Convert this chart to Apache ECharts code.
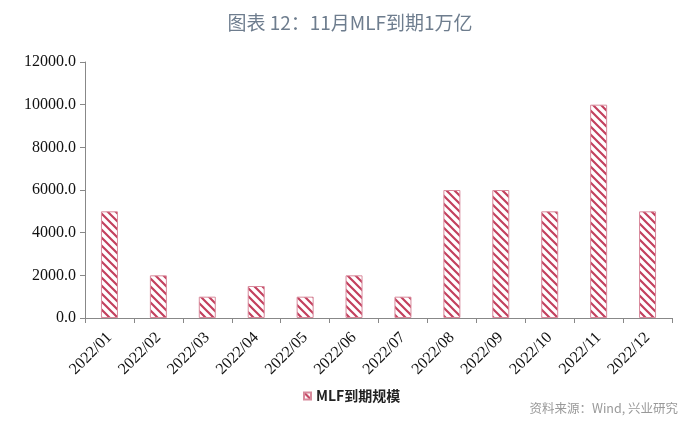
<!DOCTYPE html>
<html><head><meta charset="utf-8">
<script src="https://cdn.jsdelivr.net/npm/echarts@6/dist/echarts.min.js"></script>
<style>html,body{margin:0;padding:0;background:#fff}#c{width:700px;height:435px}</style>
</head><body><div id="c"></div>
<script>
var categories = ['2022/01','2022/02','2022/03','2022/04','2022/05','2022/06','2022/07','2022/08','2022/09','2022/10','2022/11','2022/12'];
var mlfValues = [5000,2000,1000,1500,1000,2000,1000,6000,6000,5000,10000,5000];
var seriesName = 'MLF到期规模';
var titleText = '图表 12：11月MLF到期1万亿';
var sourceText = '资料来源：Wind, 兴业研究';

function makePattern(){
  var s = 8, cv = document.createElement('canvas');
  cv.width = s; cv.height = s;
  var ctx = cv.getContext('2d');
  ctx.fillStyle = '#ffffff'; ctx.fillRect(0,0,s,s);
  ctx.strokeStyle = '#c3405e'; ctx.lineWidth = 2.2;
  ctx.beginPath();
  ctx.moveTo(-2,-2); ctx.lineTo(s+2,s+2);
  ctx.moveTo(-2,s-2); ctx.lineTo(2,s+2);
  ctx.moveTo(s-2,-2); ctx.lineTo(s+2,2);
  ctx.stroke();
  return cv;
}
var pat = makePattern();
var chart = echarts.init(document.getElementById('c'));
chart.setOption({
  animation:false,
  backgroundColor:'#fff',
  title:{text:titleText,left:'center',top:8,textStyle:{color:'#6e7d8e',fontSize:19,fontWeight:'normal',fontFamily:'Noto Sans CJK SC'}},
  graphic:[{type:'text',right:22,top:402,style:{text:sourceText,fill:'#999',fontSize:12.5,fontFamily:'Noto Sans CJK SC'}}],
  legend:{data:[{name:seriesName,icon:'rect'}],left:298,top:384,itemWidth:7,itemHeight:7,itemGap:3,textStyle:{fontSize:14,color:'#222',fontFamily:'Noto Sans CJK SC',fontWeight:'bold'}},
  grid:{left:85,right:28,top:62,bottom:117},
  xAxis:{type:'category',data:categories,boundaryGap:true,
    axisLine:{lineStyle:{color:'#888'}},
    axisTick:{show:true,alignWithLabel:false,length:5,lineStyle:{color:'#888'}},
    axisLabel:{rotate:45,interval:0,fontSize:16,color:'#111',fontFamily:'Liberation Serif',margin:17}},
  yAxis:{type:'value',min:0,max:12000,interval:2000,
    axisLine:{show:true,lineStyle:{color:'#888'}},
    axisTick:{show:true,length:5,lineStyle:{color:'#888'}},
    splitLine:{show:false},
    axisLabel:{formatter:function(v){return v.toFixed(1);},fontSize:16,color:'#111',fontFamily:'Liberation Serif',margin:9}},
  series:[{name:seriesName,type:'bar',data:mlfValues,barWidth:17,
    itemStyle:{color:{image:pat,repeat:'repeat'},borderColor:'#d88a9c',borderWidth:1}}]
});
</script></body></html>
